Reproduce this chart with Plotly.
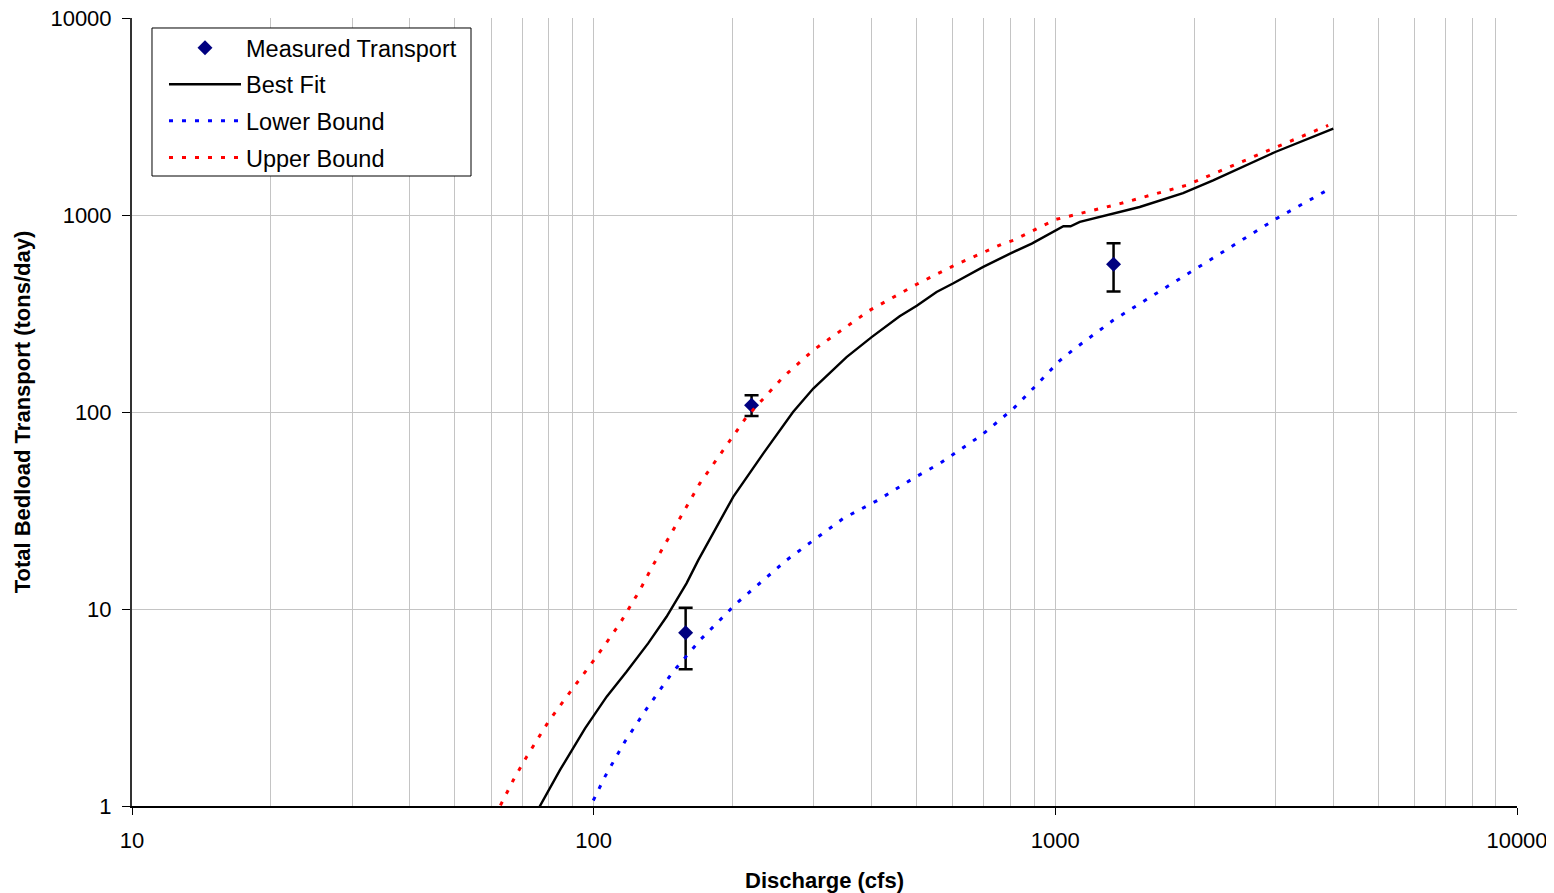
import plotly.graph_objects as go

# ---- Data ----
meas_q = [158.2, 219.8, 1337]
meas_t = [7.57, 108.3, 562]
meas_err_plus = [10.14 - 7.57, 121.7 - 108.3, 718 - 562]
meas_err_minus = [7.57 - 4.94, 108.3 - 95.5, 562 - 409]

best_q = [75, 84.5, 95.8, 106.7, 117.8, 131.2, 143.8, 158.9, 168.5, 187.7, 200.6, 232.9,
          270.3, 299, 353, 400, 460, 501, 553, 600, 698, 798, 889, 1041, 1079, 1130,
          1334, 1523, 1891, 2197, 2995, 4000]
best_t = [0.92, 1.52, 2.48, 3.59, 4.8, 6.69, 9.13, 13.5, 17.7, 28.3, 37.1, 61.5,
          100, 131.6, 190, 240, 306, 346, 407, 449, 545, 637, 716, 877, 877, 922,
          1016, 1098, 1293, 1500, 2088, 2743]

upper_q = [61, 67, 71.6, 79.8, 89.6, 101.4, 114, 126, 134.5, 153.8, 169.8, 190.8,
           214.4, 257.5, 299, 396, 469, 501, 601, 771, 811, 1003, 1381, 1923, 3010, 3900]
upper_t = [0.88, 1.355, 1.78, 2.68, 3.88, 5.72, 8.45, 12.5, 16.7, 28.8, 43.4, 64,
           94.4, 150.7, 206, 328, 410, 445, 552, 716, 744, 950, 1142, 1415, 2213, 2852]

lower_q = [97, 99.8, 105.8, 116.8, 130.4, 147.6, 170, 204, 261.6, 347, 413, 492, 562,
           692, 811, 896, 1024, 1090, 1334, 1991, 3012, 3935]
lower_t = [0.93, 1.07, 1.41, 2.12, 3.13, 4.71, 6.96, 10.7, 17.7, 28.8, 35.7, 46, 54.8,
           76.3, 104, 132, 183, 206, 292, 524, 959, 1361]

x_ticks = [10, 100, 1000, 10000]
x_ticklabels = ["10", "100", "1000", "10000"]
y_ticks = [1, 10, 100, 1000, 10000]
y_ticklabels = ["1", "10", "100", "1000", "10000"]

FONT = "Liberation Sans, Arial, sans-serif"
GRID = "#c4c4c4"

x_minor = [m * d for d in [10, 100, 1000] for m in range(2, 10)]

fig = go.Figure()
fig.add_trace(go.Scatter(
    x=meas_q, y=meas_t, mode="markers", name="Measured Transport", legendgroup="a",
    marker=dict(symbol="diamond", size=11.5, color="#000080"),
    error_y=dict(type="data", array=meas_err_plus, arrayminus=meas_err_minus,
                 color="black", thickness=2.5, width=7),
))
fig.add_trace(go.Scatter(
    x=best_q, y=best_t, mode="lines", name="Best Fit", legendgroup="b",
    line=dict(color="black", width=2.4),
))
fig.add_trace(go.Scatter(
    x=lower_q, y=lower_t, mode="lines", name="Lower Bound", legendgroup="c",
    line=dict(color="#0000ff", width=3, dash="4px,9px"),
))
fig.add_trace(go.Scatter(
    x=upper_q, y=upper_t, mode="lines", name="Upper Bound", legendgroup="d",
    line=dict(color="#ff0000", width=3, dash="4px,9px"),
))

# legend frame (drawn as a shape so its size matches the reference)
fig.add_shape(type="rect", xref="paper", yref="paper",
              x0=0.01444, x1=0.24477, y0=0.79949, y1=0.98731,
              line=dict(color="black", width=1), fillcolor="white", layer="above")

fig.update_layout(
    width=1546, height=885,
    margin=dict(l=124, r=37, t=10, b=87),
    paper_bgcolor="white", plot_bgcolor="white",
    font=dict(family=FONT, size=22, color="black"),
    showlegend=True,
    legend=dict(
        x=0.0231, y=0.98985, xanchor="left", yanchor="top",
        bgcolor="rgba(0,0,0,0)", borderwidth=0,
        font=dict(family=FONT, size=23.5, color="black"),
        tracegroupgap=3, itemwidth=72, traceorder="grouped",
    ),
    xaxis=dict(
        type="log", range=[1, 4], automargin=False,
        tickmode="array", tickvals=x_ticks, ticktext=x_ticklabels,
        ticks="outside", ticklen=7, tickcolor="black", ticklabelstandoff=7,
        ticklabeloverflow="allow",
        showline=True, linecolor="black", linewidth=1.5,
        showgrid=True, gridcolor=GRID, gridwidth=1,
        minor=dict(tickmode="array", tickvals=x_minor, showgrid=True, gridcolor=GRID,
                   gridwidth=1, ticks=""),
        title=dict(text="<b>Discharge (cfs)</b>", font=dict(family=FONT, size=22), standoff=20),
        tickfont=dict(family=FONT, size=22),
        zeroline=False,
    ),
    yaxis=dict(
        type="log", range=[0, 4], automargin=False,
        tickmode="array", tickvals=y_ticks, ticktext=y_ticklabels,
        ticks="outside", ticklen=8, tickcolor="black", ticklabelstandoff=6,
        ticklabeloverflow="allow",
        showline=True, linecolor="#333333", linewidth=2,
        showgrid=True, gridcolor=GRID, gridwidth=1,
        title=dict(text="<b>Total Bedload Transport (tons/day)</b>", font=dict(family=FONT, size=22), standoff=14),
        tickfont=dict(family=FONT, size=22),
        zeroline=False,
    ),
)

fig.write_html("out.html")
